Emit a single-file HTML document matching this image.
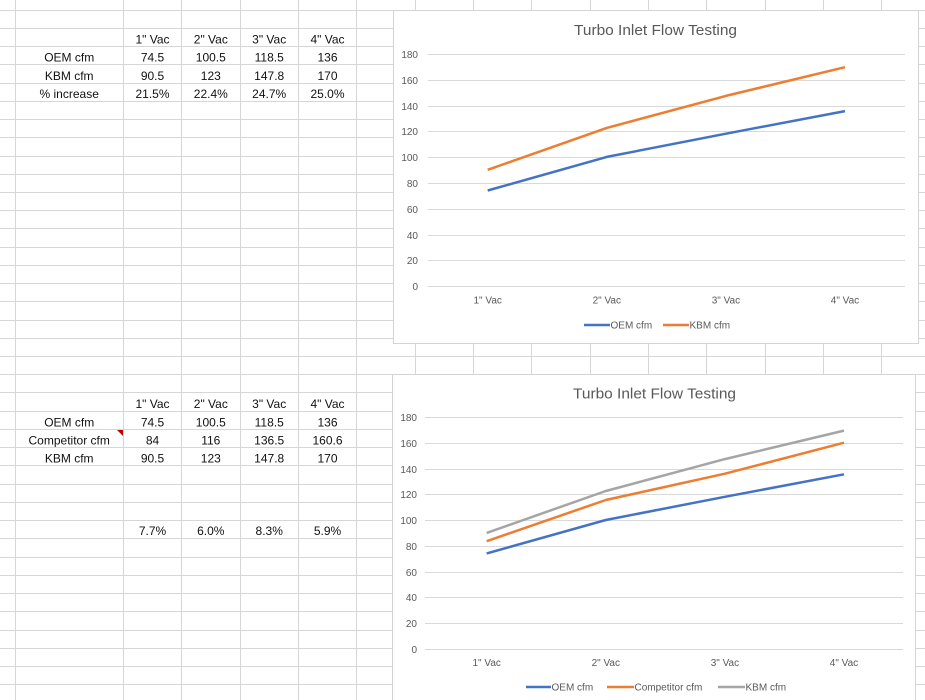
<!DOCTYPE html>
<html>
<head>
<meta charset="utf-8">
<style>
  html,body{margin:0;padding:0;background:#fff;}
  body{width:925px;height:700px;overflow:hidden;}
  svg{display:block;}
  .cell{font-family:"Liberation Sans",sans-serif;font-size:12px;fill:#111;text-anchor:middle;}
  .ax{font-family:"Liberation Sans",sans-serif;font-size:10px;fill:#595959;}
  .title{font-family:"Liberation Sans",sans-serif;font-size:15px;fill:#595959;}
</style>
</head>
<body>
<svg width="925" height="700" viewBox="0 0 925 700" xmlns="http://www.w3.org/2000/svg">
  <rect x="0" y="0" width="925" height="700" fill="#fff"/>
  <!-- spreadsheet grid -->
  <g stroke="#d6d6d6" stroke-width="1" shape-rendering="crispEdges">
    <line x1="15.5" y1="0" x2="15.5" y2="700"/>
    <line x1="123.5" y1="0" x2="123.5" y2="700"/>
    <line x1="181.5" y1="0" x2="181.5" y2="700"/>
    <line x1="240.5" y1="0" x2="240.5" y2="700"/>
    <line x1="298.5" y1="0" x2="298.5" y2="700"/>
    <line x1="356.5" y1="0" x2="356.5" y2="700"/>
    <line x1="415.5" y1="0" x2="415.5" y2="700"/>
    <line x1="473.5" y1="0" x2="473.5" y2="700"/>
    <line x1="531.5" y1="0" x2="531.5" y2="700"/>
    <line x1="590.5" y1="0" x2="590.5" y2="700"/>
    <line x1="648.5" y1="0" x2="648.5" y2="700"/>
    <line x1="706.5" y1="0" x2="706.5" y2="700"/>
    <line x1="765.5" y1="0" x2="765.5" y2="700"/>
    <line x1="823.5" y1="0" x2="823.5" y2="700"/>
    <line x1="881.5" y1="0" x2="881.5" y2="700"/>
    <line x1="0" y1="10.5" x2="925" y2="10.5"/>
    <line x1="0" y1="28.5" x2="925" y2="28.5"/>
    <line x1="0" y1="46.5" x2="925" y2="46.5"/>
    <line x1="0" y1="64.5" x2="925" y2="64.5"/>
    <line x1="0" y1="83.5" x2="925" y2="83.5"/>
    <line x1="0" y1="101.5" x2="925" y2="101.5"/>
    <line x1="0" y1="119.5" x2="925" y2="119.5"/>
    <line x1="0" y1="137.5" x2="925" y2="137.5"/>
    <line x1="0" y1="156.5" x2="925" y2="156.5"/>
    <line x1="0" y1="174.5" x2="925" y2="174.5"/>
    <line x1="0" y1="192.5" x2="925" y2="192.5"/>
    <line x1="0" y1="210.5" x2="925" y2="210.5"/>
    <line x1="0" y1="228.5" x2="925" y2="228.5"/>
    <line x1="0" y1="247.5" x2="925" y2="247.5"/>
    <line x1="0" y1="265.5" x2="925" y2="265.5"/>
    <line x1="0" y1="283.5" x2="925" y2="283.5"/>
    <line x1="0" y1="301.5" x2="925" y2="301.5"/>
    <line x1="0" y1="320.5" x2="925" y2="320.5"/>
    <line x1="0" y1="338.5" x2="925" y2="338.5"/>
    <line x1="0" y1="356.5" x2="925" y2="356.5"/>
    <line x1="0" y1="374.5" x2="925" y2="374.5"/>
    <line x1="0" y1="392.5" x2="925" y2="392.5"/>
    <line x1="0" y1="411.5" x2="925" y2="411.5"/>
    <line x1="0" y1="429.5" x2="925" y2="429.5"/>
    <line x1="0" y1="447.5" x2="925" y2="447.5"/>
    <line x1="0" y1="465.5" x2="925" y2="465.5"/>
    <line x1="0" y1="484.5" x2="925" y2="484.5"/>
    <line x1="0" y1="502.5" x2="925" y2="502.5"/>
    <line x1="0" y1="520.5" x2="925" y2="520.5"/>
    <line x1="0" y1="538.5" x2="925" y2="538.5"/>
    <line x1="0" y1="557.5" x2="925" y2="557.5"/>
    <line x1="0" y1="575.5" x2="925" y2="575.5"/>
    <line x1="0" y1="593.5" x2="925" y2="593.5"/>
    <line x1="0" y1="611.5" x2="925" y2="611.5"/>
    <line x1="0" y1="630.5" x2="925" y2="630.5"/>
    <line x1="0" y1="648.5" x2="925" y2="648.5"/>
    <line x1="0" y1="666.5" x2="925" y2="666.5"/>
    <line x1="0" y1="684.5" x2="925" y2="684.5"/>
  </g>

  <!-- table 1 -->
  <g class="cell">
    <text x="152.5" y="43.5">1" Vac</text>
    <text x="210.8" y="43.5">2" Vac</text>
    <text x="269.2" y="43.5">3" Vac</text>
    <text x="327.5" y="43.5">4" Vac</text>
    <text x="69.2" y="61.7">OEM cfm</text>
    <text x="152.5" y="61.7">74.5</text>
    <text x="210.8" y="61.7">100.5</text>
    <text x="269.2" y="61.7">118.5</text>
    <text x="327.5" y="61.7">136</text>
    <text x="69.2" y="80">KBM cfm</text>
    <text x="152.5" y="80">90.5</text>
    <text x="210.8" y="80">123</text>
    <text x="269.2" y="80">147.8</text>
    <text x="327.5" y="80">170</text>
    <text x="69.2" y="98.2">% increase</text>
    <text x="152.5" y="98.2">21.5%</text>
    <text x="210.8" y="98.2">22.4%</text>
    <text x="269.2" y="98.2">24.7%</text>
    <text x="327.5" y="98.2">25.0%</text>
  </g>

  <!-- table 2 -->
  <g class="cell">
    <text x="152.5" y="408">1" Vac</text>
    <text x="210.8" y="408">2" Vac</text>
    <text x="269.2" y="408">3" Vac</text>
    <text x="327.5" y="408">4" Vac</text>
    <text x="69.2" y="426.3">OEM cfm</text>
    <text x="152.5" y="426.3">74.5</text>
    <text x="210.8" y="426.3">100.5</text>
    <text x="269.2" y="426.3">118.5</text>
    <text x="327.5" y="426.3">136</text>
    <text x="69.2" y="444.5">Competitor cfm</text>
    <text x="152.5" y="444.5">84</text>
    <text x="210.8" y="444.5">116</text>
    <text x="269.2" y="444.5">136.5</text>
    <text x="327.5" y="444.5">160.6</text>
    <text x="69.2" y="462.7">KBM cfm</text>
    <text x="152.5" y="462.7">90.5</text>
    <text x="210.8" y="462.7">123</text>
    <text x="269.2" y="462.7">147.8</text>
    <text x="327.5" y="462.7">170</text>
    <text x="152.5" y="535">7.7%</text>
    <text x="210.8" y="535">6.0%</text>
    <text x="269.2" y="535">8.3%</text>
    <text x="327.5" y="535">5.9%</text>
  </g>
  <polygon points="117,430 123,430 123,436" fill="#c00000"/>

  <!-- CHART 1 -->
  <rect x="393.5" y="10.5" width="525" height="333" fill="#fff" stroke="#d4d4d4" stroke-width="1"/>
  <text class="title" x="574" y="35" textLength="163" lengthAdjust="spacingAndGlyphs">Turbo Inlet Flow Testing</text>
  <g stroke="#d9d9d9" stroke-width="1" shape-rendering="crispEdges">
    <line x1="428" y1="54.5" x2="905" y2="54.5"/>
    <line x1="428" y1="80.5" x2="905" y2="80.5"/>
    <line x1="428" y1="106.5" x2="905" y2="106.5"/>
    <line x1="428" y1="131.5" x2="905" y2="131.5"/>
    <line x1="428" y1="157.5" x2="905" y2="157.5"/>
    <line x1="428" y1="183.5" x2="905" y2="183.5"/>
    <line x1="428" y1="209.5" x2="905" y2="209.5"/>
    <line x1="428" y1="235.5" x2="905" y2="235.5"/>
    <line x1="428" y1="260.5" x2="905" y2="260.5"/>
    <line x1="428" y1="286.5" x2="905" y2="286.5"/>
  </g>
  <g class="ax" text-anchor="end">
    <text x="418" y="58">180</text>
    <text x="418" y="84">160</text>
    <text x="418" y="110">140</text>
    <text x="418" y="135">120</text>
    <text x="418" y="161">100</text>
    <text x="418" y="187">80</text>
    <text x="418" y="213">60</text>
    <text x="418" y="239">40</text>
    <text x="418" y="264">20</text>
    <text x="418" y="290">0</text>
  </g>
  <g class="ax" text-anchor="middle">
    <text x="487.7" y="303.5">1" Vac</text>
    <text x="606.8" y="303.5">2" Vac</text>
    <text x="725.9" y="303.5">3" Vac</text>
    <text x="845" y="303.5">4" Vac</text>
  </g>
  <polyline points="487.7,190.5 606.8,156.9 725.9,133.7 845,111.1" fill="none" stroke="#4472C4" stroke-width="2.5" stroke-linejoin="round"/>
  <polyline points="487.7,169.8 606.8,127.9 725.9,95.9 845,67.2" fill="none" stroke="#ED7D31" stroke-width="2.5" stroke-linejoin="round"/>
  <line x1="584" y1="325" x2="610" y2="325" stroke="#4472C4" stroke-width="2.5"/>
  <text class="ax" x="610.5" y="328.5">OEM cfm</text>
  <line x1="663" y1="325" x2="689" y2="325" stroke="#ED7D31" stroke-width="2.5"/>
  <text class="ax" x="689.5" y="328.5">KBM cfm</text>

  <!-- CHART 2 -->
  <rect x="392.5" y="374.5" width="523" height="340" fill="#fff" stroke="#d4d4d4" stroke-width="1"/>
  <text class="title" x="573" y="398.5" textLength="163" lengthAdjust="spacingAndGlyphs">Turbo Inlet Flow Testing</text>
  <g stroke="#d9d9d9" stroke-width="1" shape-rendering="crispEdges">
    <line x1="425" y1="417.5" x2="903" y2="417.5"/>
    <line x1="425" y1="443.5" x2="903" y2="443.5"/>
    <line x1="425" y1="469.5" x2="903" y2="469.5"/>
    <line x1="425" y1="494.5" x2="903" y2="494.5"/>
    <line x1="425" y1="520.5" x2="903" y2="520.5"/>
    <line x1="425" y1="546.5" x2="903" y2="546.5"/>
    <line x1="425" y1="572.5" x2="903" y2="572.5"/>
    <line x1="425" y1="597.5" x2="903" y2="597.5"/>
    <line x1="425" y1="623.5" x2="903" y2="623.5"/>
    <line x1="425" y1="649.5" x2="903" y2="649.5"/>
  </g>
  <g class="ax" text-anchor="end">
    <text x="417" y="421">180</text>
    <text x="417" y="447">160</text>
    <text x="417" y="473">140</text>
    <text x="417" y="498">120</text>
    <text x="417" y="524">100</text>
    <text x="417" y="550">80</text>
    <text x="417" y="576">60</text>
    <text x="417" y="601">40</text>
    <text x="417" y="627">20</text>
    <text x="417" y="653">0</text>
  </g>
  <g class="ax" text-anchor="middle">
    <text x="486.7" y="666">1" Vac</text>
    <text x="605.8" y="666">2" Vac</text>
    <text x="724.9" y="666">3" Vac</text>
    <text x="844" y="666">4" Vac</text>
  </g>
  <polyline points="486.7,553.4 605.8,520 724.9,496.8 844,474.3" fill="none" stroke="#4472C4" stroke-width="2.5" stroke-linejoin="round"/>
  <polyline points="486.7,541.2 605.8,500 724.9,473.7 844,442.7" fill="none" stroke="#ED7D31" stroke-width="2.5" stroke-linejoin="round"/>
  <polyline points="486.7,532.9 605.8,491 724.9,459.1 844,430.6" fill="none" stroke="#A5A5A5" stroke-width="2.5" stroke-linejoin="round"/>
  <line x1="526" y1="687" x2="551" y2="687" stroke="#4472C4" stroke-width="2.5"/>
  <text class="ax" x="551.5" y="690.5">OEM cfm</text>
  <line x1="607" y1="687" x2="634" y2="687" stroke="#ED7D31" stroke-width="2.5"/>
  <text class="ax" x="634.5" y="690.5">Competitor cfm</text>
  <line x1="718" y1="687" x2="745" y2="687" stroke="#A5A5A5" stroke-width="2.5"/>
  <text class="ax" x="745.5" y="690.5">KBM cfm</text>
</svg>
</body>
</html>
